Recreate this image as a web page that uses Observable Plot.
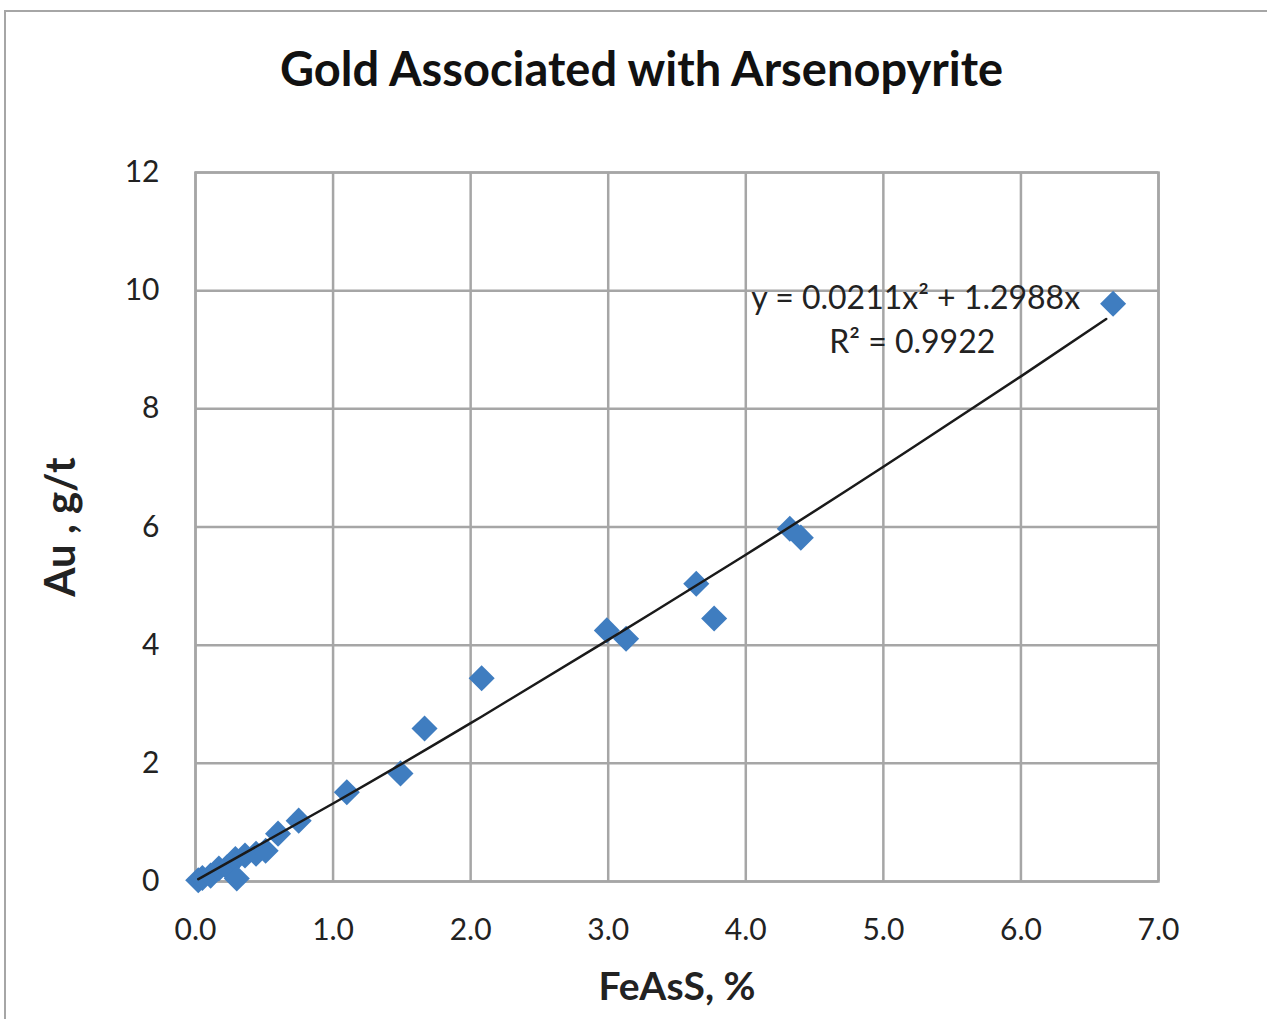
<!DOCTYPE html>
<html><head><meta charset="utf-8">
<script src="https://cdn.jsdelivr.net/npm/d3@7"></script>
<script src="https://cdn.jsdelivr.net/npm/@observablehq/plot@0.6"></script>
<style>
html,body{margin:0;padding:0;background:#fff;}
#frame{position:absolute;left:4px;top:10px;width:1300px;height:1100px;border:2px solid #a6a6a6;box-sizing:border-box;}
#wrap{position:absolute;left:0;top:0;width:1267px;height:1019px;overflow:hidden;font-family:Lato,"Open Sans",sans-serif;}
#title{position:absolute;left:0;top:0;width:1267px;height:120px;text-align:center;font-weight:bold;font-size:47px;line-height:1;color:#111;}
#title span{position:absolute;left:0;right:0;top:45px;padding-left:16px;}
#chart{position:absolute;left:0;top:120px;}
g[aria-label="x-axis label"] text{font-weight:bold;font-size:39px;fill:#222;}
g[aria-label="y-axis label"] text{font-weight:bold;font-size:42px;fill:#222;}
</style></head>
<body>
<div id="wrap"><div id="frame"></div>
<div id="title"><span>Gold Associated with Arsenopyrite</span></div>
<div id="chart"></div></div>
<script>
const feAsS = [0.02,0.05,0.11,0.17,0.23,0.29,0.30,0.36,0.44,0.51,0.60,0.75,1.10,1.49,1.665,2.08,2.99,3.13,3.64,3.77,4.32,4.40,6.67];
const au    = [0.02,0.06,0.10,0.22,0.24,0.38,0.05,0.44,0.47,0.52,0.81,1.03,1.51,1.83,2.59,3.44,4.25,4.11,5.04,4.45,5.97,5.82,9.78];
const trendX = [0.02,1,2,3,4,5,6,6.62];
const trendY = [0.04,1.32,2.68,4.09,5.53,7.02,8.55,9.52];
const xTicks = [0,1,2,3,4,5,6,7];
const yTicks = [0,2,4,6,8,10,12];
const equation = ["y = 0.0211x² + 1.2988x", "R² = 0.9922"];

const points = feAsS.map((x,i)=>({x, y: au[i]}));
const trend = trendX.map((x,i)=>({x, y: trendY[i]}));

const chart = Plot.plot({
  width: 1267, height: 899,
  marginLeft: 195, marginRight: 109, marginTop: 52, marginBottom: 138,
  style: {fontFamily: 'Lato, "Open Sans", sans-serif', fontSize: "30px", color: "#222", background: "transparent"},
  x: {domain: [0,7], ticks: xTicks},
  y: {domain: [0,12], ticks: yTicks},
  marks: [
    Plot.gridX(xTicks, {stroke: "#a6a6a6", strokeOpacity: 1, strokeWidth: 2.5}),
    Plot.gridY(yTicks, {stroke: "#a6a6a6", strokeOpacity: 1, strokeWidth: 2.5}),
    Plot.frame({stroke: "#a6a6a6", strokeWidth: 2.5}),
    Plot.axisX(xTicks, {tickSize: 0, tickPadding: 37, tickFormat: d3.format(".1f"), fontSize: 30,
      label: "FeAsS, %", labelAnchor: "center", labelArrow: "none", labelOffset: 118}),
    Plot.axisY(yTicks, {tickSize: 0, tickPadding: 36, tickFormat: d3.format("d"), fontSize: 30,
      label: "Au , g/t", labelAnchor: "center", labelArrow: "none", labelOffset: 150}),
    Plot.dot(points, {x: "x", y: "y", symbol: "square", rotate: 45, r: 10.4, fill: "#3f7dc0", stroke: "none"}),
    Plot.line(trend, {x: "x", y: "y", stroke: "#1a1a1a", strokeWidth: 2.5, curve: "natural"}),
    Plot.text([equation[0]], {x: 5.235, y: 9.87, text: d => d, fontSize: 32, fill: "#222"}),
    Plot.text([equation[1]], {x: 5.21, y: 9.12, text: d => d, fontSize: 32, fill: "#222"})
  ]
});
document.getElementById("chart").appendChild(chart);
</script>
</body></html>
